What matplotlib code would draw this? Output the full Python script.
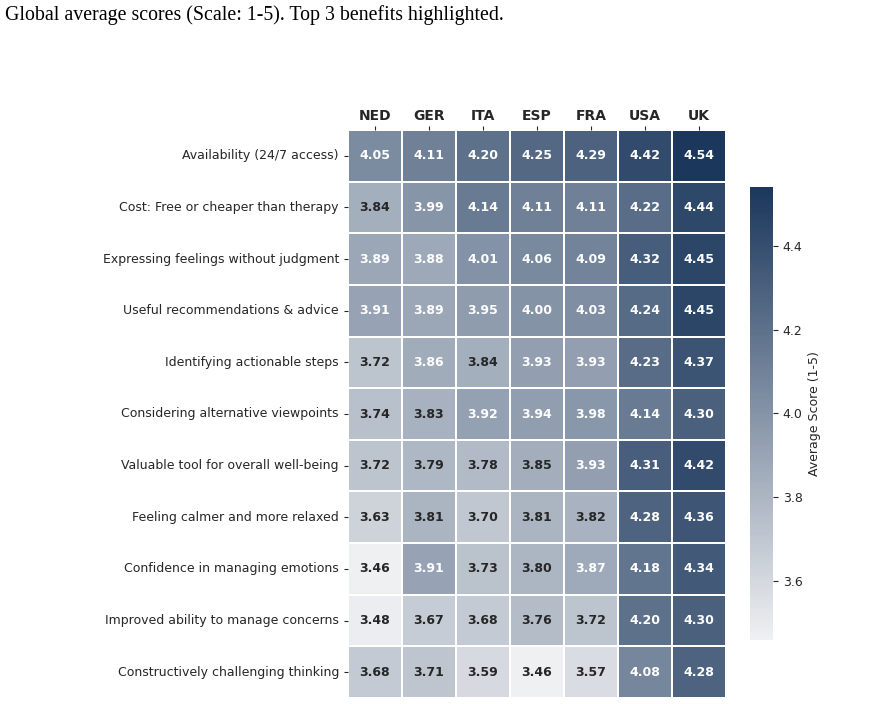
import numpy as np
import pandas as pd
import matplotlib
matplotlib.use("Agg")
import matplotlib.pyplot as plt
import seaborn as sns
from matplotlib.colors import LinearSegmentedColormap

countries = ["NED", "GER", "ITA", "ESP", "FRA", "USA", "UK"]
benefits = [
    "Availability (24/7 access)",
    "Cost: Free or cheaper than therapy",
    "Expressing feelings without judgment",
    "Useful recommendations & advice",
    "Identifying actionable steps",
    "Considering alternative viewpoints",
    "Valuable tool for overall well-being",
    "Feeling calmer and more relaxed",
    "Confidence in managing emotions",
    "Improved ability to manage concerns",
    "Constructively challenging thinking",
]
ned = [4.05, 3.84, 3.89, 3.91, 3.72, 3.74, 3.72, 3.63, 3.46, 3.48, 3.68]
ger = [4.11, 3.99, 3.88, 3.89, 3.86, 3.83, 3.79, 3.81, 3.91, 3.67, 3.71]
ita = [4.20, 4.14, 4.01, 3.95, 3.84, 3.92, 3.78, 3.70, 3.73, 3.68, 3.59]
esp = [4.25, 4.11, 4.06, 4.00, 3.93, 3.94, 3.85, 3.81, 3.80, 3.76, 3.46]
fra = [4.29, 4.11, 4.09, 4.03, 3.93, 3.98, 3.93, 3.82, 3.87, 3.72, 3.57]
usa = [4.42, 4.22, 4.32, 4.24, 4.23, 4.14, 4.31, 4.28, 4.18, 4.20, 4.08]
uk = [4.54, 4.44, 4.45, 4.45, 4.37, 4.30, 4.42, 4.36, 4.34, 4.30, 4.28]

df = pd.DataFrame({"NED": ned, "GER": ger, "ITA": ita, "ESP": esp,
                   "FRA": fra, "USA": usa, "UK": uk}, index=benefits)

plt.rcParams["text.color"] = "#262626"
plt.rcParams["axes.labelcolor"] = "#262626"
plt.rcParams["xtick.color"] = "#262626"
plt.rcParams["ytick.color"] = "#262626"

cmap = LinearSegmentedColormap.from_list("navy", ["#eff0f2", "#1b375c"])

fig = plt.figure(figsize=(8.9, 7.04), dpi=100)
ax = fig.add_axes([348/890, 1-698/704, 378/890, 568/704])
cax = fig.add_axes([750/890, 1-640/704, 23/890, 453/704])

sns.heatmap(df, ax=ax, cbar_ax=cax, cmap=cmap, annot=True, fmt=".2f",
            linewidths=1.2, linecolor="white",
            annot_kws={"fontsize": 9, "fontweight": "bold"},
            cbar_kws={"label": "Average Score (1-5)"})

ax.xaxis.tick_top()
ax.set_xticklabels(countries, fontsize=10, fontweight="bold", rotation=0)
ax.set_yticklabels(benefits, fontsize=9, rotation=0)
ax.tick_params(axis="x", length=3, pad=2)
ax.tick_params(axis="y", length=3)
ax.set_xlabel("")
ax.set_ylabel("")

cax.tick_params(labelsize=9)
cax.yaxis.label.set_size(9)
for s in cax.spines.values():
    s.set_visible(False)

fig.text(0.006, 0.979, "Global average scores (Scale: 1-5). Top 3 benefits highlighted.",
         fontsize=14.3, family="Liberation Serif", color="black", ha="left", va="center")

fig.savefig("out.png", dpi=100)
